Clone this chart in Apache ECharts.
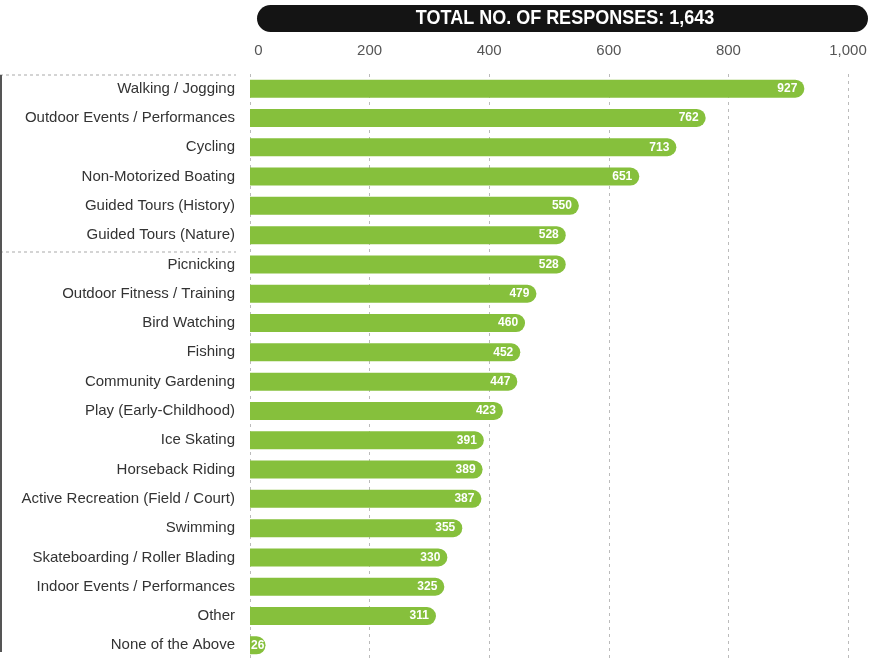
<!DOCTYPE html>
<html><head><meta charset="utf-8">
<script src="https://cdn.jsdelivr.net/npm/echarts@6/dist/echarts.min.js"></script>
<style>html,body{margin:0;padding:0;background:#fff}#c{width:896px;height:660px}</style>
</head><body><div id="c"></div>
<script>
const categories = ["Walking / Jogging","Outdoor Events / Performances","Cycling","Non-Motorized Boating","Guided Tours (History)","Guided Tours (Nature)","Picnicking","Outdoor Fitness / Training","Bird Watching","Fishing","Community Gardening","Play (Early-Childhood)","Ice Skating","Horseback Riding","Active Recreation (Field / Court)","Swimming","Skateboarding / Roller Blading","Indoor Events / Performances","Other","None of the Above"];
const responses = [927,762,713,651,550,528,528,479,460,452,447,423,391,389,387,355,330,325,311,26];
const xTicks = [0,200,400,600,800,1000];
const headerText = "TOTAL NO. OF RESPONSES: 1,643";

const chart = echarts.init(document.getElementById('c'));
chart.setOption({
  animation:false,
  textStyle:{fontFamily:'Liberation Sans, Arial, sans-serif'},
  grid:{left:250,right:48,top:74,bottom:-4,containLabel:false},
  xAxis:{type:'value',position:'top',min:xTicks[0],max:xTicks[xTicks.length-1],interval:200,
    axisLine:{show:false},axisTick:{show:false},
    axisLabel:{color:'#555',fontSize:15,margin:16,alignMinLabel:'left',
      formatter:v=>(v===0?' ':'')+v.toLocaleString('en-US')},
    splitLine:{show:true,lineStyle:{color:'#bbb',type:[3,4],width:1}}},
  yAxis:{type:'category',inverse:true,data:categories,
    axisLine:{show:false},axisTick:{show:false},
    axisLabel:{color:'#333',fontSize:15,margin:15}},
  series:[{type:'bar',barWidth:18,
    data:responses.map(v=>v<100?{value:v,label:{position:'insideLeft',offset:[-4,0]}}:v),
    itemStyle:{color:'#86c03c',borderRadius:[0,9,9,0]},
    label:{show:true,position:'insideRight',color:'#fff',fontWeight:'bold',fontSize:12,offset:[-2,0]}}],
  graphic:[
    {type:'rect',shape:{x:257,y:5,width:611,height:27,r:13.5},style:{fill:'#141414'}},
    {type:'text',x:565,y:18.5,scaleX:0.9,style:{text:headerText,fill:'#fff',font:'bold 20px "Liberation Sans", Arial, sans-serif',textAlign:'center',textVerticalAlign:'middle'}},
    {type:'line',shape:{x1:0,y1:75,x2:236,y2:75},style:{stroke:'#aaa',lineWidth:1,lineDash:[3,3]}},
    {type:'line',shape:{x1:0,y1:252,x2:236,y2:252},style:{stroke:'#aaa',lineWidth:1,lineDash:[3,3]}},
    {type:'line',shape:{x1:1,y1:75,x2:1,y2:652},style:{stroke:'#555',lineWidth:2}}
  ]
});
</script></body></html>
